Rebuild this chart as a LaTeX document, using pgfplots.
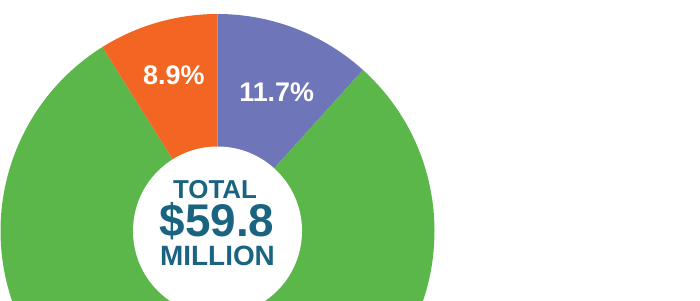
\documentclass[border=0pt]{standalone}
\usepackage{pgfplots}
\pgfplotsset{compat=1.18}
\usepackage{pgfplotstable}
\usepackage{fontspec}
\setmainfont{Liberation Sans}
\definecolor{cpurple}{HTML}{6E76B9}
\definecolor{cgreen}{HTML}{5BB74A}
\definecolor{corange}{HTML}{F26522}
\definecolor{ctext}{HTML}{1A6482}
\pgfplotstableread{
share
11.7
79.4
8.9
}\slices
\begin{document}
\begin{tikzpicture}
\pgfplotstablegetelem{0}{share}\of\slices \let\sA\pgfplotsretval
\pgfplotstablegetelem{1}{share}\of\slices \let\sB\pgfplotsretval
\pgfplotstablegetelem{2}{share}\of\slices \let\sC\pgfplotsretval
\pgfmathsetmacro\aA{90}
\pgfmathsetmacro\aB{90-3.6*\sA}
\pgfmathsetmacro\aC{\aB-3.6*\sB}
\pgfmathsetmacro\aD{\aC-3.6*\sC}
\begin{axis}[width=700bp,height=300bp,scale only axis,
  xmin=0,xmax=700,ymin=0,ymax=300,hide axis,clip=true]
\fill[cpurple] (axis cs:217.5,69) -- ++(\aA:217bp) arc[start angle=\aA, end angle=\aB, radius=217bp] -- cycle;
\fill[cgreen] (axis cs:217.5,69) -- ++(\aB:217bp) arc[start angle=\aB, end angle=\aC, radius=217bp] -- cycle;
\fill[corange] (axis cs:217.5,69) -- ++(\aC:217bp) arc[start angle=\aC, end angle=\aD, radius=217bp] -- cycle;
\fill[white] (axis cs:217.5,69) circle[radius=84.5bp];
\node[anchor=base,inner sep=0pt,white,font=\bfseries\fontsize{27}{27}\selectfont] at (axis cs:276.7,198.3) {\pgfmathprintnumber[assume math mode=true,fixed,precision=1,fixed zerofill]{\sA}\%};
\node[anchor=base,inner sep=0pt,white,font=\bfseries\fontsize{27}{27}\selectfont] at (axis cs:173.8,216) {\pgfmathprintnumber[assume math mode=true,fixed,precision=1,fixed zerofill]{\sC}\%};
\node[anchor=base,inner sep=0pt,ctext,font=\bfseries\fontsize{26}{26}\selectfont] at (axis cs:215,101.7) {TOTAL};
\node[anchor=base,inner sep=0pt,ctext,font=\bfseries\fontsize{46}{46}\selectfont] at (axis cs:217,63.3) {\$59.8};
\node[anchor=base,inner sep=0pt,ctext,font=\bfseries\fontsize{28}{28}\selectfont] at (axis cs:217.5,35) {MILLION};
\end{axis}
\pgfresetboundingbox
\useasboundingbox (current axis.south west) rectangle (current axis.north east);
\end{tikzpicture}
\end{document}
